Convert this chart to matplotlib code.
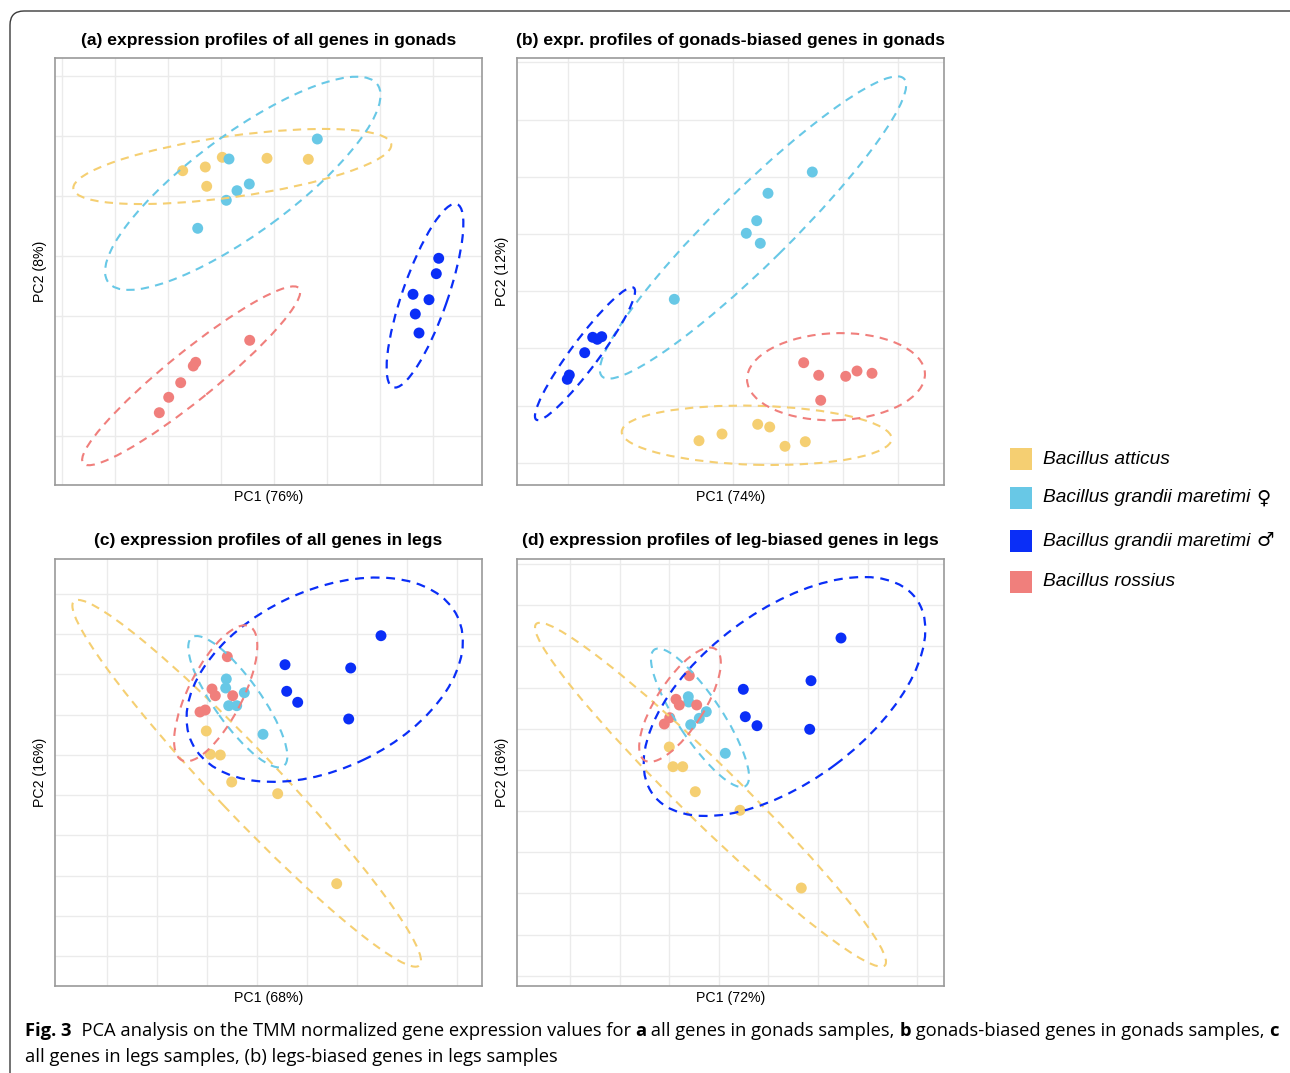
import numpy as np
import matplotlib
matplotlib.use("Agg")
import matplotlib.pyplot as plt
from matplotlib.patches import Ellipse, FancyBboxPatch, Rectangle
from matplotlib.transforms import IdentityTransform

# ---------------- data ----------------
species = ["Bacillus atticus", "Bacillus grandii maretimi",
           "Bacillus grandii maretimi", "Bacillus rossius"]
sex_marks = ["", "\u2640", "\u2642", ""]
colors = ["#F5CF72", "#68C8E6", "#0A2EF7", "#F07F7C"]

titles = ["(a) expression profiles of all genes in gonads",
          "(b) expr. profiles of gonads-biased genes in gonads",
          "(c) expression profiles of all genes in legs",
          "(d) expression profiles of leg-biased genes in legs"]
xlabels = ["PC1 (76%)", "PC1 (74%)", "PC1 (68%)", "PC1 (72%)"]
ylabels = ["PC2 (8%)", "PC2 (12%)", "PC2 (16%)", "PC2 (16%)"]

# panel (a)
a_x = [[12.77, 15.03, 16.73, 15.17, 21.20, 25.33],
       [17.40, 19.43, 18.20, 17.13, 14.27, 26.23],
       [38.37, 38.13, 35.80, 37.40, 36.03, 36.40],
       [19.47, 14.07, 13.83, 12.57, 11.37, 10.43]]
a_y = [[31.43, 31.80, 32.77, 29.87, 32.67, 32.57],
       [32.60, 30.10, 29.43, 28.47, 25.67, 34.60],
       [22.67, 21.13, 19.07, 18.53, 17.10, 15.20],
       [14.47, 12.27, 11.90, 10.23, 8.77, 7.23]]
# panel (b)
b_x = [[18.20, 20.50, 24.07, 25.27, 26.80, 28.83],
       [29.53, 25.10, 23.97, 22.93, 24.33, 15.73],
       [5.03, 5.23, 6.77, 7.57, 8.03, 8.47],
       [28.67, 30.17, 32.87, 34.00, 35.50, 30.37]]
b_y = [[4.43, 5.10, 6.07, 5.80, 3.87, 4.33],
       [31.30, 29.17, 26.43, 25.17, 24.17, 18.57],
       [10.57, 11.00, 13.23, 14.77, 14.57, 14.83],
       [12.23, 10.97, 10.87, 11.40, 11.17, 8.47]]
# panel (c)
c_x = [[15.13, 15.53, 16.53, 17.67, 22.27, 28.17],
       [17.13, 17.07, 18.93, 17.37, 18.17, 20.80],
       [32.60, 23.00, 29.57, 23.17, 24.27, 29.37],
       [17.23, 15.70, 16.03, 17.77, 14.50, 15.03]]
c_y = [[25.50, 23.17, 23.10, 20.40, 19.23, 10.23],
       [30.70, 29.80, 29.33, 28.03, 28.03, 25.17],
       [35.03, 32.13, 31.80, 29.47, 28.37, 26.70],
       [32.93, 29.70, 29.03, 29.03, 27.40, 27.60]]
# panel (d)
d_x = [[15.23, 15.60, 16.57, 17.83, 22.30, 28.43],
       [17.13, 17.17, 18.93, 18.23, 17.37, 20.83],
       [32.40, 29.40, 22.63, 22.83, 24.00, 29.27],
       [17.23, 15.90, 16.23, 17.97, 15.27, 14.73]]
d_y = [[23.90, 21.93, 21.93, 19.43, 17.57, 9.80],
       [28.93, 28.40, 27.43, 26.77, 26.13, 23.27],
       [34.80, 30.53, 29.67, 26.93, 26.03, 25.67],
       [31.03, 28.67, 28.10, 28.10, 26.83, 26.20]]

# 95% ellipses: centre x, centre y, semi-major, semi-minor, angle (deg)
a_ell = [(17.73, 31.85, 16.05, 3.05, 8.0), (18.78, 30.17, 16.7, 4.95, 36.3),
         (37.00, 18.93, 9.7, 2.26, 70.8), (13.62, 10.92, 13.9, 2.4, 39.0)]
b_ell = [(23.97, 4.97, 13.5, 2.95, -1.5), (23.60, 25.75, 21.2, 3.7, 44.6),
         (6.80, 13.13, 8.2, 1.4, 53.5), (31.90, 10.83, 8.9, 4.35, 2.0)]
c_ell = [(19.17, 20.27, 25.1, 3.2, -46.5), (18.28, 28.43, 7.9, 2.3, -54.5),
         (26.97, 30.63, 14.7, 8.9, 25.4), (16.07, 29.27, 7.5, 2.7, 63.1)]
d_ell = [(19.35, 19.13, 24.4, 2.9, -44.4), (18.30, 26.82, 8.2, 2.2, -56.3),
         (26.75, 28.95, 16.4, 8.5, 36.8), (16.30, 28.13, 6.6, 2.4, 57.5)]

caption1 = [("Fig. 3", "bold"), ("  PCA analysis on the TMM normalized gene expression values for ", "normal"),
            ("a", "bold"), (" all genes in gonads samples, ", "normal"), ("b", "bold"),
            (" gonads-biased genes in gonads samples, ", "normal"), ("c", "bold")]
caption2 = "all genes in legs samples, (b) legs-biased genes in legs samples"

# ---------------- layout ----------------
W, H = 1290, 1073
fig = plt.figure(figsize=(W / 100, H / 100), dpi=100)
fig.patch.set_facecolor("white")
renderer = fig.canvas.get_renderer()

def fx(x):
    return x / W

def fy(y):
    return 1 - y / H

# outer rounded frame
frame = FancyBboxPatch((10, -60), 1295, H - 11 + 60,
                       boxstyle="round,pad=0,rounding_size=14",
                       transform=IdentityTransform(), fill=False,
                       edgecolor="#3a3a3a", linewidth=1.0)
fig.patches.append(frame)

panels = [
    dict(box=(55, 58), xs=a_x, ys=a_y, ell=a_ell, gx=(0.7, 5.3), gy=(4.9, 6.0)),
    dict(box=(517, 58), xs=b_x, ys=b_y, ell=b_ell, gx=(5.07, 5.5), gy=(2.23, 5.72)),
    dict(box=(55, 559), xs=c_x, ys=c_y, ell=c_ell, gx=(5.17, 5.0), gy=(2.97, 4.03)),
    dict(box=(517, 559), xs=d_x, ys=d_y, ell=d_ell, gx=(5.3, 4.96), gy=(1.03, 4.117)),
]
SIZE = 427
LIM = 42.7
title_font = ["Liberation Sans", "DejaVu Sans"]

for i, p in enumerate(panels):
    x0, y0 = p["box"]
    ax = fig.add_axes([fx(x0), fy(y0 + SIZE), SIZE / W, SIZE / H])
    ax.set_xlim(0, LIM)
    ax.set_ylim(0, LIM)
    ax.set_xticks(np.arange(p["gx"][0], LIM, p["gx"][1]))
    ax.set_yticks(np.arange(p["gy"][0], LIM, p["gy"][1]))
    ax.tick_params(length=0, labelbottom=False, labelleft=False)
    ax.grid(True, color="#EBEBEB", linewidth=1.0)
    ax.set_axisbelow(True)
    for s in ax.spines.values():
        s.set_color("#9a9a9a")
        s.set_linewidth(1.2)
    for k in range(4):
        ax.scatter(p["xs"][k], p["ys"][k], s=62, color=colors[k],
                   edgecolors="none", zorder=3)
    for k in range(4):
        cx, cy, a, b, ang = p["ell"][k]
        e = Ellipse((cx, cy), 2 * a, 2 * b, angle=ang, fill=False,
                    edgecolor=colors[k], linewidth=1.6 if k == 2 else 1.5,
                    linestyle=(0, (4, 3)), zorder=4)
        ax.add_patch(e)
    # texts
    cxp = x0 + SIZE / 2
    fig.text(fx(cxp), fy(y0 - 18), titles[i], ha="center", va="center",
             fontsize=12.6, fontweight="bold", family=title_font)
    fig.text(fx(cxp), fy(y0 + SIZE + 12), xlabels[i], ha="center", va="center",
             fontsize=10.2, family=title_font)
    fig.text(fx(x0 - 15), fy(y0 + SIZE / 2), ylabels[i], ha="center", va="center",
             rotation=90, fontsize=10.2, family=title_font)

# legend
leg_y = [459, 498, 541, 582]
for k in range(4):
    fig.patches.append(Rectangle((1010, H - leg_y[k] - 11), 22, 22,
                                 transform=IdentityTransform(),
                                 facecolor=colors[k], edgecolor="none"))
    t = fig.text(fx(1043), fy(leg_y[k]), species[k], ha="left", va="center",
                 fontsize=13.8, style="italic", family=["Liberation Sans"])
    if sex_marks[k]:
        wtxt = t.get_window_extent(renderer).width
        fig.text(fx(1043 + wtxt + 6), fy(leg_y[k]), sex_marks[k], ha="left",
                 va="center", fontsize=14, family=["DejaVu Sans"])

# caption with mixed weights
cap_font = ["Open Sans", "DejaVu Sans"]
cap_size = 12.0
tmp = []
tot = 0
for txt, wt in caption1:
    t = fig.text(0, 0, txt, fontsize=cap_size, fontweight=wt, family=cap_font)
    tot += t.get_window_extent(renderer).width
    tmp.append(t)
for t in tmp:
    t.remove()
cap_size = cap_size * (1277 - 25) / tot
xpos = 25
for txt, wt in caption1:
    t = fig.text(fx(xpos), fy(1031), txt, fontsize=cap_size, fontweight=wt,
                 family=cap_font, ha="left", va="center")
    xpos += t.get_window_extent(renderer).width
fig.text(fx(25), fy(1057), caption2, fontsize=cap_size, family=cap_font,
         ha="left", va="center")

fig.savefig("out.png", dpi=100, facecolor="white")
